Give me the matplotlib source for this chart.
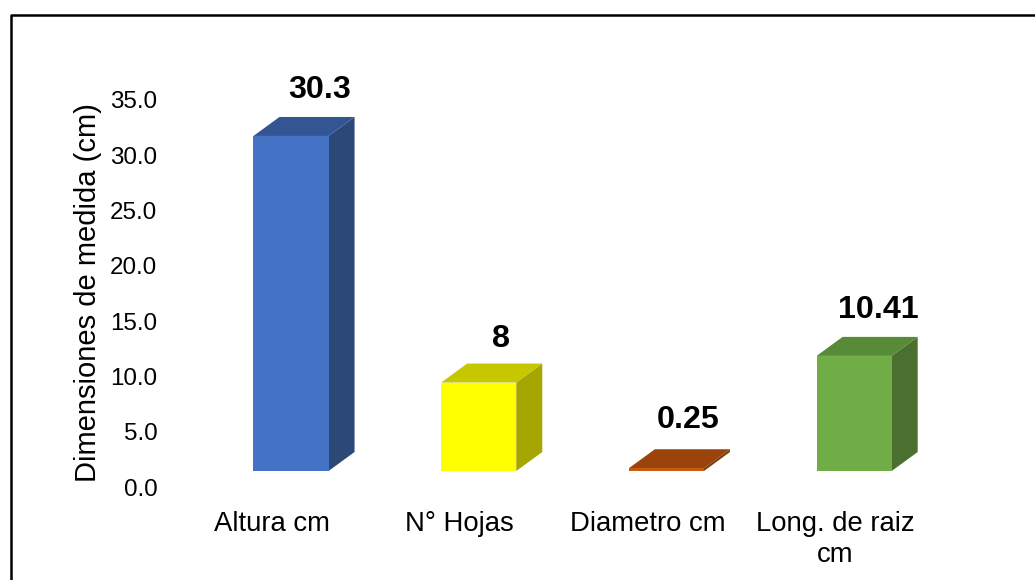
import matplotlib
matplotlib.use("Agg")
import matplotlib.pyplot as plt
from matplotlib.lines import Line2D
from matplotlib.patches import Polygon
from matplotlib.transforms import Affine2D

plt.rcParams['font.family'] = ['Liberation Sans', 'DejaVu Sans']

# Chart data
categories = ["Altura cm", "N° Hojas", "Diametro cm", "Long. de raiz\ncm"]
values = [30.3, 8, 0.25, 10.41]
value_labels = ["30.3", "8", "0.25", "10.41"]
y_ticks = [0, 5, 10, 15, 20, 25, 30, 35]

# Face colours of each box
front_colors = ["#4472C4", "#FFFF00", "#C55A11", "#70AD47"]
side_colors = ["#2C4877", "#A6A600", "#7F3A0B", "#4A6F2E"]
top_colors = ["#335593", "#C7C700", "#9A440C", "#588A37"]

# Hand placed offsets of the value labels, in pixels
label_dx = [29, 22, 22, 24]
label_dy = [31, 29, 33, 31]

W, H = 1035, 580
fig = plt.figure(figsize=(W / 100, H / 100), dpi=100)

# Axes in pixel terms: zero at y=487, 35 at y=100
left, right = 178.15, 929.0
bottom, top = 487.0, 100.0
ax = fig.add_axes([left / W, 1 - bottom / H, (right - left) / W, (bottom - top) / H])
ax.set_xlim(-0.5, 3.5)
ax.set_ylim(0, 35)
for s in ax.spines.values():
    s.set_visible(False)

# Boxes are shifted from the axis floor, depth is in data units
shift = ax.transData + Affine2D().translate(19, 16)
bar_w = 0.4
depth_x = 26 / 187.7
depth_y = 19 / 11.057

for i, v in enumerate(values):
    x0 = i - bar_w / 2
    x1 = i + bar_w / 2
    ax.bar(i, v, bar_w, color=front_colors[i], transform=shift, linewidth=0, zorder=3)
    side = [(x1, 0), (x1 + depth_x, depth_y), (x1 + depth_x, v + depth_y), (x1, v)]
    lid = [(x0, v), (x0 + depth_x, v + depth_y), (x1 + depth_x, v + depth_y), (x1, v)]
    ax.add_patch(Polygon(side, closed=True, facecolor=side_colors[i], linewidth=0,
                         transform=shift, zorder=2))
    ax.add_patch(Polygon(lid, closed=True, facecolor=top_colors[i], linewidth=0,
                         transform=shift, zorder=2))
    # value label above the box
    ax.annotate(value_labels[i], xy=(i, v), xycoords=shift,
                xytext=(label_dx[i], label_dy[i]), textcoords='offset pixels',
                ha='center', va='bottom', fontsize=23.2, fontweight='bold', color='black')

ax.set_yticks(y_ticks)
ax.set_yticklabels([f"{t:.1f}" for t in y_ticks])
ax.set_xticks(range(len(categories)))
ax.set_xticklabels(categories, linespacing=1.22)
ax.tick_params(axis='y', length=0, pad=15, labelsize=17.4)
ax.tick_params(axis='x', length=0, pad=17.4, labelsize=19.8)

fig.text(88 / W, 1 - 293 / H, "Dimensiones de medida (cm)", rotation=90,
         ha='center', va='center', fontsize=21)

# Frame around the chart, open at the bottom and right
fig.add_artist(Line2D([11 / W, 11 / W, 1], [0, 1 - 15 / H, 1 - 15 / H],
                      color='black', linewidth=1.8, transform=fig.transFigure))

plt.savefig("out.png", dpi=100)
